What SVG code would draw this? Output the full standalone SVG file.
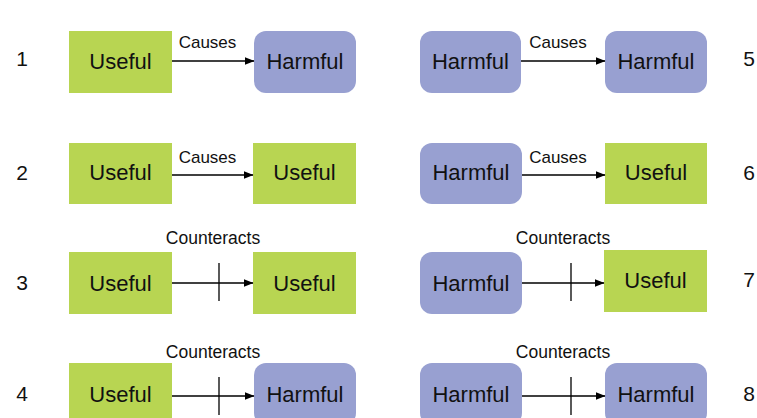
<svg xmlns="http://www.w3.org/2000/svg" width="757" height="418" viewBox="0 0 757 418">
  <style>
    .useful { fill: #b8d552; }
    .harmful { fill: #98a0d1; }
    .box-text { font-family: "Liberation Sans", Arial, sans-serif; font-size: 22px; fill: #111; text-anchor: middle; }
    .num { font-family: "Liberation Sans", Arial, sans-serif; font-size: 21px; fill: #111; text-anchor: middle; }
    .label { font-family: "Liberation Sans", Arial, sans-serif; font-size: 17px; fill: #111; text-anchor: middle; }
    .label.wide { font-size: 17.5px; }
    .link { stroke: #000; stroke-width: 1.5; fill: none; }
    .tick { stroke: #000; stroke-width: 1.3; }
  </style>
  <defs>
    <marker id="arrow" markerWidth="10" markerHeight="8" refX="9.5" refY="4" orient="auto" markerUnits="userSpaceOnUse">
      <path d="M0,0 L10,4 L0,8 Z" fill="#000"/>
    </marker>
  </defs>
  <rect width="757" height="418" fill="#fff"/>

  <!-- row numbers -->
  <g id="numbers">
    <text class="num" x="22" y="66">1</text>
    <text class="num" x="22" y="180">2</text>
    <text class="num" x="22" y="290">3</text>
    <text class="num" x="22" y="401">4</text>
    <text class="num" x="749" y="66">5</text>
    <text class="num" x="749" y="180">6</text>
    <text class="num" x="749" y="287">7</text>
    <text class="num" x="749" y="401">8</text>
  </g>

  <!-- row 1 left -->
  <g id="n1a"><rect class="useful" x="69" y="31" width="103" height="62"/><text class="box-text" x="120.5" y="69">Useful</text></g>
  <g id="n1b"><rect class="harmful" x="254" y="31" width="102" height="62" rx="12"/><text class="box-text" x="305" y="69">Harmful</text></g>
  <!-- row 1 right -->
  <g id="n5a"><rect class="harmful" x="420" y="31" width="101" height="62" rx="12"/><text class="box-text" x="470.5" y="69">Harmful</text></g>
  <g id="n5b"><rect class="harmful" x="605" y="31" width="102" height="62" rx="12"/><text class="box-text" x="656" y="69">Harmful</text></g>

  <!-- row 2 left -->
  <g id="n2a"><rect class="useful" x="69" y="143" width="103" height="61"/><text class="box-text" x="120.5" y="180">Useful</text></g>
  <g id="n2b"><rect class="useful" x="253" y="143" width="103" height="61"/><text class="box-text" x="304.5" y="180">Useful</text></g>
  <!-- row 2 right -->
  <g id="n6a"><rect class="harmful" x="420" y="143" width="102" height="61" rx="12"/><text class="box-text" x="471" y="180">Harmful</text></g>
  <g id="n6b"><rect class="useful" x="605" y="143" width="102" height="61"/><text class="box-text" x="656" y="180">Useful</text></g>

  <!-- row 3 left -->
  <g id="n3a"><rect class="useful" x="69" y="252" width="103" height="62"/><text class="box-text" x="120.5" y="291">Useful</text></g>
  <g id="n3b"><rect class="useful" x="253" y="252" width="103" height="62"/><text class="box-text" x="304.5" y="291">Useful</text></g>
  <!-- row 3 right -->
  <g id="n7a"><rect class="harmful" x="420" y="252" width="102" height="62" rx="12"/><text class="box-text" x="471" y="291">Harmful</text></g>
  <g id="n7b"><rect class="useful" x="604" y="250" width="103" height="62"/><text class="box-text" x="655.5" y="288">Useful</text></g>

  <!-- row 4 left -->
  <g id="n4a"><rect class="useful" x="69" y="363" width="103" height="62"/><text class="box-text" x="120.5" y="402">Useful</text></g>
  <g id="n4b"><rect class="harmful" x="254" y="363" width="102" height="62" rx="12"/><text class="box-text" x="305" y="402">Harmful</text></g>
  <!-- row 4 right -->
  <g id="n8a"><rect class="harmful" x="420" y="363" width="102" height="62" rx="12"/><text class="box-text" x="471" y="402">Harmful</text></g>
  <g id="n8b"><rect class="harmful" x="605" y="363" width="102" height="62" rx="12"/><text class="box-text" x="656" y="402">Harmful</text></g>

  <!-- connectors -->
  <g id="connectors">
    <line class="link" x1="172" y1="61" x2="254" y2="61" marker-end="url(#arrow)"/>
    <line class="link" x1="521" y1="61" x2="605" y2="61" marker-end="url(#arrow)"/>
    <line class="link" x1="172" y1="175" x2="253" y2="175" marker-end="url(#arrow)"/>
    <line class="link" x1="522" y1="175" x2="605" y2="175" marker-end="url(#arrow)"/>
    <line class="link" x1="172" y1="283" x2="253" y2="283" marker-end="url(#arrow)"/>
    <line class="tick" x1="219" y1="263" x2="219" y2="301"/>
    <line class="link" x1="522" y1="283" x2="604" y2="283" marker-end="url(#arrow)"/>
    <line class="tick" x1="571" y1="263" x2="571" y2="301"/>
    <line class="link" x1="172" y1="396" x2="254" y2="396" marker-end="url(#arrow)"/>
    <line class="tick" x1="219" y1="377" x2="219" y2="415"/>
    <line class="link" x1="522" y1="396" x2="605" y2="396" marker-end="url(#arrow)"/>
    <line class="tick" x1="571" y1="377" x2="571" y2="415"/>

    <text class="label" x="207.5" y="48">Causes</text>
    <text class="label" x="558" y="48">Causes</text>
    <text class="label" x="207.5" y="163">Causes</text>
    <text class="label" x="558" y="163">Causes</text>
    <text class="label wide" x="213" y="244">Counteracts</text>
    <text class="label wide" x="563" y="244">Counteracts</text>
    <text class="label wide" x="213" y="358">Counteracts</text>
    <text class="label wide" x="563" y="358">Counteracts</text>
  </g>
</svg>
